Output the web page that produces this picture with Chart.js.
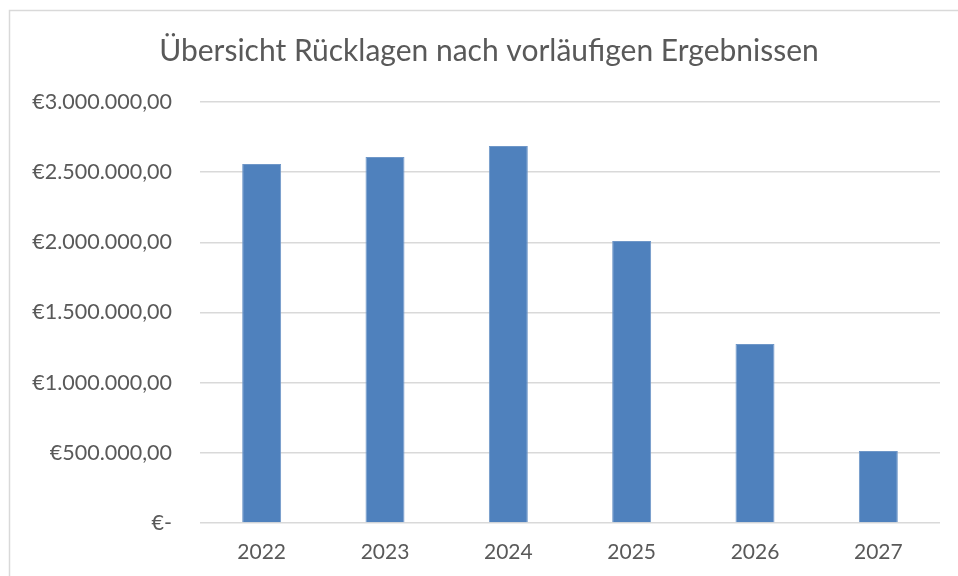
<!DOCTYPE html>
<html>
<head>
<meta charset="utf-8">
<script src="https://cdn.jsdelivr.net/npm/chart.js@4"></script>
<style>
  html, body { margin: 0; padding: 0; background: #fff; }
  #wrap { width: 958px; height: 576px; position: relative; }
</style>
</head>
<body>
<div id="wrap"><canvas id="myChart" width="958" height="576"></canvas></div>
<script>
const years = ["2022", "2023", "2024", "2025", "2026", "2027"];
const reserves = [2558000, 2608000, 2686000, 2009000, 1276000, 513000];
const yTickLabels = ["€-", "€500.000,00", "€1.000.000,00", "€1.500.000,00", "€2.000.000,00", "€2.500.000,00", "€3.000.000,00"];
const chartTitle = "Übersicht Rücklagen nach vorläufigen Ergebnissen";

const fontFamily = "Lato, 'Open Sans', sans-serif";
const textColor = "#595959";

// outer frame + title, drawn by hand so the plot area sits where it should
const frameAndTitle = {
    id: "frameAndTitle",
    beforeDraw(chart) {
        const c = chart.ctx;
        c.save();
        c.strokeStyle = "#d9d9d9";
        c.lineWidth = 1.5;
        c.strokeRect(9.5, 10.5, 1000, 1000);
        c.restore();
    },
    afterDraw(chart) {
        const c = chart.ctx;
        c.save();
        c.fillStyle = textColor;
        c.font = "30px " + fontFamily;
        c.textAlign = "center";
        c.textBaseline = "middle";
        c.fillText(chartTitle, 489, 51);
        c.restore();
    }
};

let ctx = document.getElementById("myChart").getContext("2d");

let myChart = new Chart(ctx, {
    type: "bar",
    data: {
        labels: years,
        datasets: [
            {
                label: "Rücklagen",
                data: reserves,
                backgroundColor: "#4f81bd",
                borderColor: "#6f97c8",
                borderWidth: 1,
                barPercentage: 0.316,
                categoryPercentage: 1,
            },
        ],
    },
    options: {
        responsive: false,
        animation: false,
        layout: {
            padding: { top: 102, right: 18, bottom: 0, left: 0 }
        },
        plugins: {
            legend: { display: false },
            title: { display: false },
            tooltip: { enabled: false },
        },
        scales: {
            x: {
                grid: { display: false, drawTicks: false },
                border: { display: false },
                ticks: {
                    color: textColor,
                    font: { family: fontFamily, size: 21 },
                    padding: 17,
                },
                afterFit(scale) { scale.height = 53; },
            },
            y: {
                min: 0,
                max: 3000000,
                grid: { color: "#d9d9d9", lineWidth: 1.5, drawTicks: false },
                border: { display: false },
                ticks: {
                    stepSize: 500000,
                    color: textColor,
                    font: { family: fontFamily, size: 21.5 },
                    padding: 28,
                    callback: (v) => yTickLabels[Math.round(v / 500000)],
                },
                afterFit(scale) { scale.width = 200; },
            },
        },
    },
    plugins: [frameAndTitle],
});
</script>
</body>
</html>
